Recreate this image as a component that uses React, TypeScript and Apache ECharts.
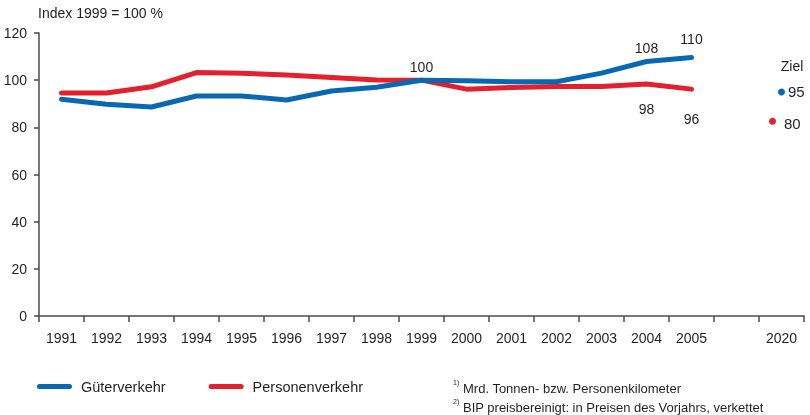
import React, { useEffect, useRef } from "react";
import * as echarts from "echarts";

const categories = ["1991", "1992", "1993", "1994", "1995", "1996", "1997", "1998", "1999", "2000", "2001", "2002", "2003", "2004", "2005", "", "2020"];
const gueter = [91.9, 89.8, 88.6, 93.3, 93.3, 91.6, 95.4, 97.0, 100, 99.7, 99.3, 99.3, 103.0, 107.9, 109.6];
const personen = [94.6, 94.6, 97.2, 103.2, 102.9, 102.2, 101.1, 100.1, 100, 96.2, 96.9, 97.3, 97.3, 98.4, 96.2];
const zielGueter = 95;
const zielPersonen = 80;
const yTicks = [0, 20, 40, 60, 80, 100, 120];
const labeledGueter = [8, 13, 14];
const labeledPersonen = [13, 14];

const BLUE = "#0868b3";
const RED = "#e5202d";
const TXT = "#231f20";
const AXIS = "#4a4a4a";
const FONT = "'Liberation Sans', Arial, sans-serif";

export default function App() {
  const ref = useRef<HTMLDivElement>(null);
  useEffect(() => {
    const chart = echarts.init(ref.current!, undefined, { renderer: "svg" });
    const round = (p: any) => String(Math.round(Array.isArray(p.value) ? p.value[1] : p.value));
    const gData = gueter.map((v, i) => {
      if (!labeledGueter.includes(i)) return v;
      const dist = i === 14 ? 11 : 6;
      return { value: v, label: { show: true, position: "top", distance: dist, formatter: round } };
    });
    const pData = personen.map((v, i) => {
      if (!labeledPersonen.includes(i)) return v;
      const dist = i === 14 ? 22 : 18;
      return { value: v, label: { show: true, position: "bottom", distance: dist, formatter: round } };
    });
    const labelStyle = { fontSize: 14, color: TXT, fontFamily: FONT };
    chart.setOption({
      animation: false,
      textStyle: { fontFamily: FONT, color: TXT },
      grid: { left: 39, right: 6, top: 33, bottom: 99, containLabel: false },
      xAxis: {
        type: "category",
        data: categories,
        boundaryGap: true,
        axisLine: { lineStyle: { color: AXIS, width: 1.5 } },
        axisTick: { show: true, interval: 0, length: 6, lineStyle: { color: AXIS, width: 1.5 } },
        axisLabel: { interval: 0, margin: 15, ...labelStyle },
        splitLine: { show: false },
      },
      yAxis: {
        type: "value",
        min: yTicks[0],
        max: yTicks[yTicks.length - 1],
        interval: 20,
        axisLine: { show: true, lineStyle: { color: AXIS, width: 1.5 } },
        axisTick: { show: true, length: 5, lineStyle: { color: AXIS, width: 1.5 } },
        axisLabel: { margin: 12, ...labelStyle },
        splitLine: { show: false },
      },
      legend: {
        left: 32,
        top: 374,
        itemWidth: 35,
        itemHeight: 5,
        itemGap: 43,
        icon: "path://M2.5,0 L32.5,0 A2.5,2.5 0 0 1 32.5,5 L2.5,5 A2.5,2.5 0 0 1 2.5,0 Z",
        data: ["Güterverkehr", "Personenverkehr"],
        textStyle: { fontSize: 14.5, color: TXT, fontFamily: FONT, padding: [0, 0, 0, 4] },
      },
      series: [
        {
          name: "Güterverkehr",
          type: "line",
          data: gData,
          symbol: "circle",
          symbolSize: 1,
          showSymbol: true,
          itemStyle: { color: BLUE },
          lineStyle: { color: BLUE, width: 5, join: "round", cap: "round" },
          label: { show: false, ...labelStyle },
          z: 3,
        },
        {
          name: "Personenverkehr",
          type: "line",
          data: pData,
          symbol: "circle",
          symbolSize: 1,
          showSymbol: true,
          itemStyle: { color: RED },
          lineStyle: { color: RED, width: 5, join: "round", cap: "round" },
          label: { show: false, ...labelStyle },
          z: 2,
        },
        {
          name: "Ziel Güterverkehr",
          type: "scatter",
          data: [[categories[16], zielGueter]],
          symbol: "circle",
          symbolSize: 7,
          itemStyle: { color: BLUE, opacity: 1 },
          label: { show: true, position: "right", distance: 3, ...labelStyle, fontSize: 15, formatter: round },
        },
        {
          name: "Ziel Personenverkehr",
          type: "scatter",
          data: [[categories[16], zielPersonen]],
          symbol: "circle",
          symbolSize: 7,
          symbolOffset: [-9, -6],
          itemStyle: { color: RED, opacity: 1 },
          label: { show: true, position: "right", distance: 8, offset: [0, 2], ...labelStyle, fontSize: 15, formatter: round },
        },
      ],
      graphic: [
        { type: "text", left: 38, top: 6, style: { text: "Index 1999 = 100 %", fontSize: 14, fill: TXT, fontFamily: FONT } },
        { type: "text", x: 792, y: 66, style: { text: "Ziel", fontSize: 14, fill: TXT, fontFamily: FONT, align: "center", verticalAlign: "middle" } },
        { type: "text", x: 453, y: 379, style: { text: "1)", fontSize: 7, fill: TXT, fontFamily: FONT } },
        { type: "text", x: 463, y: 382, style: { text: "Mrd. Tonnen- bzw. Personenkilometer", fontSize: 13, fill: TXT, fontFamily: FONT } },
        { type: "text", x: 453, y: 398, style: { text: "2)", fontSize: 7, fill: TXT, fontFamily: FONT } },
        { type: "text", x: 463, y: 401, style: { text: "BIP preisbereinigt: in Preisen des Vorjahrs, verkettet", fontSize: 13, fill: TXT, fontFamily: FONT } },
      ],
    });
    return () => chart.dispose();
  }, []);
  return <div ref={ref} style={{ position: "fixed", left: 0, top: 0, width: 810, height: 415 }} />;
}
